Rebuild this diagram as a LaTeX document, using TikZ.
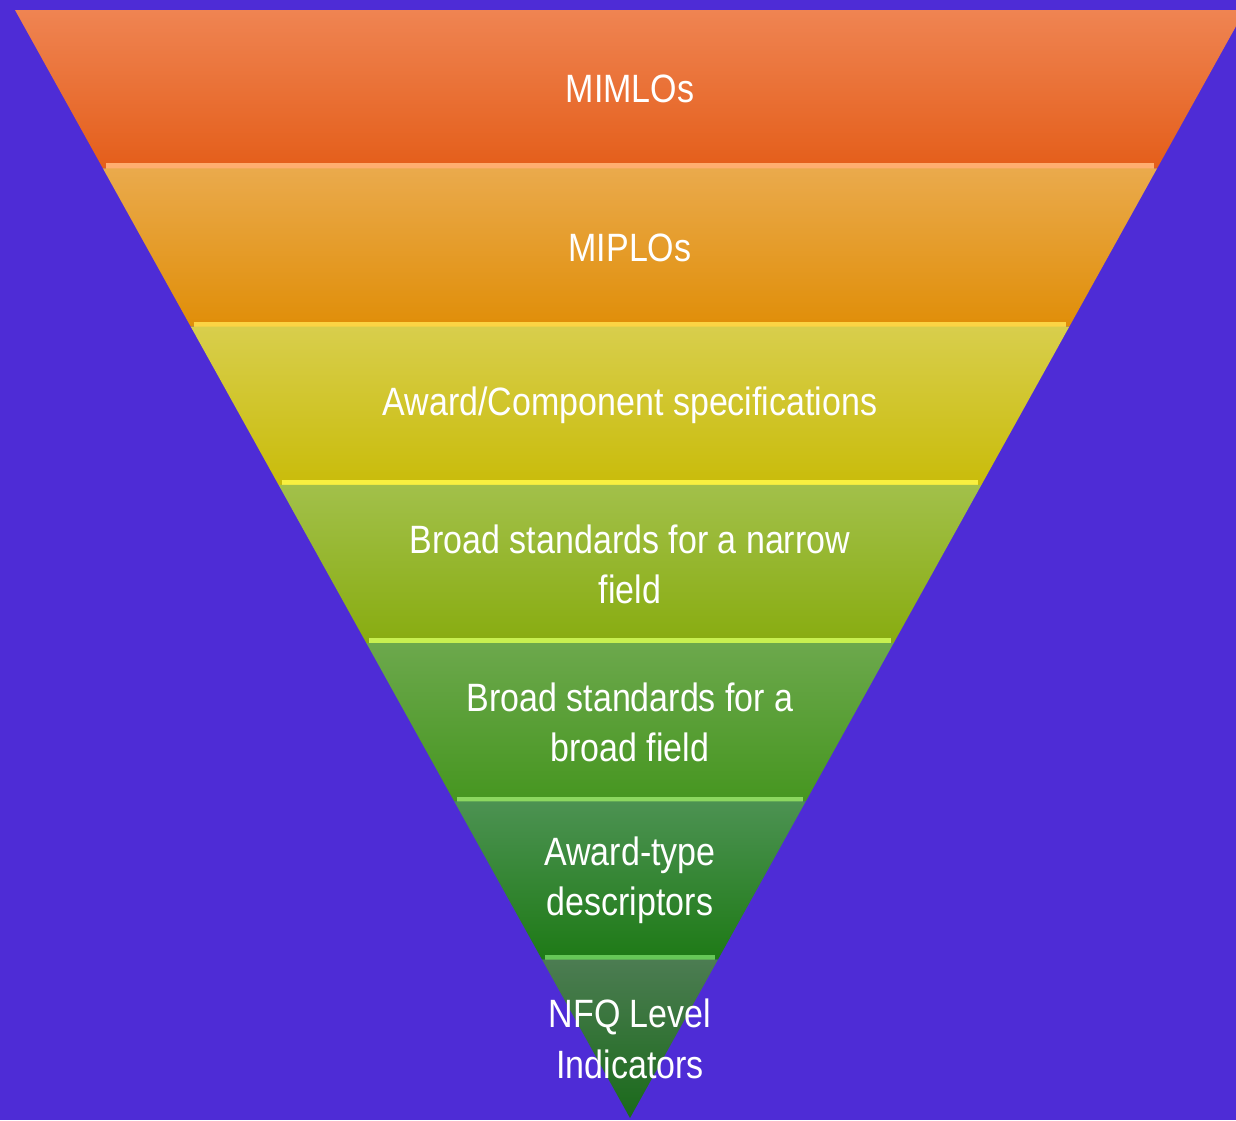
\documentclass[tikz,border=0pt]{standalone}
\usepackage{fontspec}
\newfontfamily\bandfont[FakeStretch=0.86]{Liberation Sans}
\usetikzlibrary{calc, positioning}
\definecolor{nfq-bg}{HTML}{4E2CD6}
% band colours (top / bottom / bevel)
\definecolor{b1-top}{HTML}{EF8452}
\definecolor{b1-bot}{HTML}{E45E1A}
\definecolor{b1-edge}{HTML}{FFAE70}
\definecolor{b2-top}{HTML}{EAAA4C}
\definecolor{b2-bot}{HTML}{E08E08}
\definecolor{b2-edge}{HTML}{FCD444}
\definecolor{b3-top}{HTML}{D8CE4C}
\definecolor{b3-bot}{HTML}{C9BC0A}
\definecolor{b3-edge}{HTML}{F8F040}
\definecolor{b4-top}{HTML}{A2C04A}
\definecolor{b4-bot}{HTML}{88AC10}
\definecolor{b4-edge}{HTML}{C8F050}
\definecolor{b5-top}{HTML}{6CA84C}
\definecolor{b5-bot}{HTML}{469620}
\definecolor{b5-edge}{HTML}{8CD860}
\definecolor{b6-top}{HTML}{4C9252}
\definecolor{b6-bot}{HTML}{1E7A16}
\definecolor{b6-edge}{HTML}{66C858}
\definecolor{b7-top}{HTML}{4C7C52}
\definecolor{b7-bot}{HTML}{1A6A1A}
\definecolor{b7-edge}{HTML}{1A6A1A}

\begin{document}
\begin{tikzpicture}[x=0.02cm, y=-0.02cm,
    bandtext/.style={text=white, align=center, font=\bandfont\fontsize{22.5}{28.5}\selectfont}]
    % background
    \fill[nfq-bg] (0,0) rectangle (1236,1120);
    \useasboundingbox (0,0) rectangle (1236,1120);

    % inverted triangle
    \coordinate (tl) at (15,10);
    \coordinate (tr) at (1245,10);
    \coordinate (apex) at (630,1118);

    \foreach \i/\col/\name/\txt in {1/b1/mimlo/MIMLOs, 2/b2/miplo/MIPLOs,
        3/b3/spec/{Award/Component specifications},
        4/b4/narrow/{Broad standards for a narrow\\field},
        5/b5/broad/{Broad standards for a\\broad field},
        6/b6/awardtype/{Award-type\\descriptors},
        7/b7/nfq/{NFQ Level\\Indicators}} {
        \pgfmathsetmacro\ta{(\i-1)/7}
        \pgfmathsetmacro\tb{\i/7}
        \shade[top color=\col-top, bottom color=\col-bot]
            ($(tl)!\ta!(apex)$) -- ($(tr)!\ta!(apex)$) -- ($(tr)!\tb!(apex)$) -- ($(tl)!\tb!(apex)$) -- cycle;
        \ifnum\i<7
            \draw[\col-edge, line width=3.2pt] ($(tl)!\tb!(apex) + (3,-2)$) -- ($(tr)!\tb!(apex) + (-3,-2)$);
        \fi
        \node[bandtext] (\name) at (630,{10+(\i-0.5)*1108/7}) {\txt};
    }
\end{tikzpicture}
\end{document}
